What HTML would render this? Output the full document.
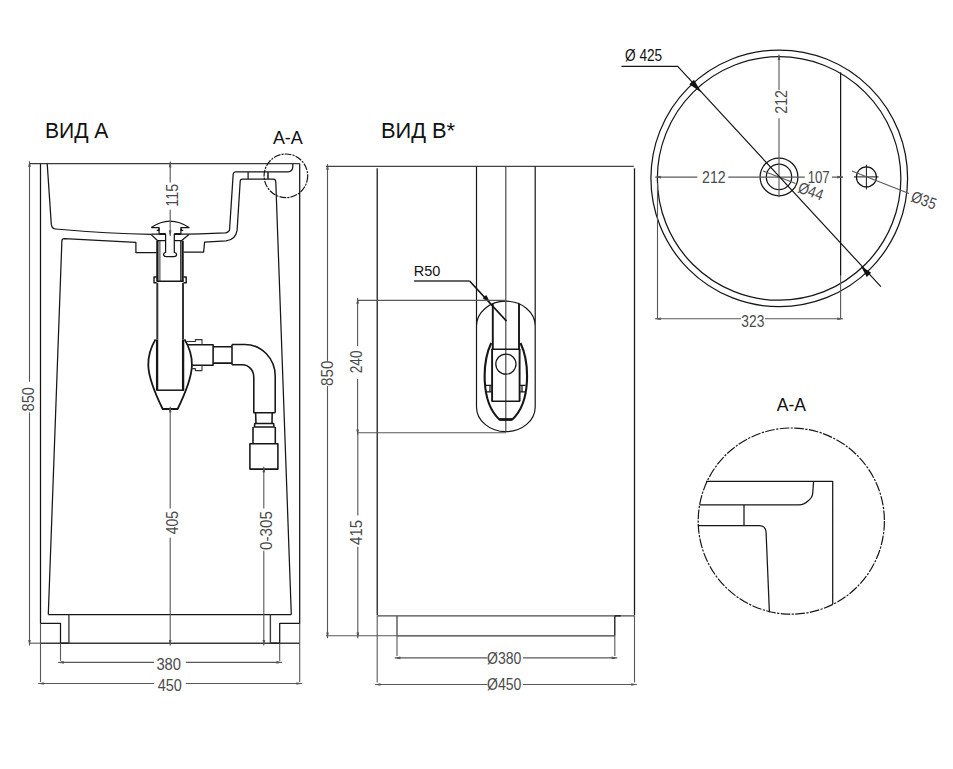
<!DOCTYPE html>
<html><head><meta charset="utf-8">
<style>
html,body{margin:0;padding:0;background:#fff;width:953px;height:769px;overflow:hidden}
svg{display:block;position:absolute;left:0;top:0}
.o{fill:none;stroke:#161616;stroke-width:1.25;stroke-linejoin:round}
.ot{fill:none;stroke:#161616;stroke-width:2.3}
.s{stroke-width:1.55}
.d{fill:none;stroke:#585858;stroke-width:1.1}
.c{fill:none;stroke:#161616;stroke-width:1.2;stroke-dasharray:9.7 1.4 2.2 1.4}
text{font-family:"Liberation Sans",sans-serif}
.t{fill:#4a4a4a;font-size:16px}
.h{fill:#111;font-size:23px}
</style></head>
<body>
<svg width="953" height="769" viewBox="0 0 953 769">
<text class="h" x="44.9" y="137.9" text-anchor="start" style="font-size:22px" textLength="63.5" lengthAdjust="spacingAndGlyphs">ВИД А</text>
<text class="h" x="272.9" y="143.8" text-anchor="start" style="font-size:18.5px" textLength="29.9" lengthAdjust="spacingAndGlyphs">А-А</text>
<path class="o" d="M40.5,163.6 V623.3 H60.5 V643.2 M299.7,163.6 V623.3 H279.7 V643.2"/>
<path class="o" d="M29.5,163.6 H299.7" style="stroke:#3a3a3a;stroke-width:1.35"/>
<path class="o" d="M40.5,643.2 H299.7" style="stroke:#3a3a3a;stroke-width:1.35"/>
<path class="o" d="M60.5,643.2 H68.9 M270.4,643.2 H279.7"/>
<path class="d" d="M29.5,643.2 H40.5"/>
<path class="o" d="M48.3,614.6 H291.3"/>
<path class="d" d="M68.9,614.6 V643.2 M270.4,614.6 V643.2" style="stroke:#3a3a3a;stroke-width:1.35"/>
<path class="o" d="M47.2,163.6 L51.3,224.4 Q52,228.8 55.5,229 Q110,233.8 151.2,234.3 M189,234.2 L200,233.9 L225.4,232.8 Q229.4,232.2 229.6,229.1 L233.2,173.9 Q233.6,171.9 235.4,171.9 H287.8 Q292.6,171.5 292.8,167 V163.6"/>
<path class="o" d="M48.3,614.6 L61.9,240.6 Q62.1,238.6 64.4,238.6 L135.9,242.3 V252.5 H156.6"/>
<path class="o" d="M291.3,614.6 L275.8,182 Q275.5,179.1 273.5,179.1 H242.3 Q240.3,179.1 240.2,181.3 L237.1,230.4 Q235.5,240 226,240.8 L204.6,242.1 L203.6,252.2 H183.7"/>
<path class="o" d="M248.1,171.9 V179.1"/>
<path class="o" d="M268,171.9 V179.1" style="stroke:#333;stroke-width:1.7"/>
<circle class="c" cx="285.9" cy="175.8" r="21.8" style="stroke-dasharray:6.9 1.1 2.1 1.1"/>
<path class="o" d="M151.2,227.6 Q170,214.6 189,227.6 H180.9 V233.7 M151.2,227.6 H159.1 V233.7"/>
<path d="M156.3,231 L159.3,227.8 V231 z M183.7,231 L180.7,227.8 V231 z" fill="#111"/>
<path class="o" d="M151.2,234.2 H159.1 M180.9,234.2 H189"/>
<path class="o" d="M165.6,233.7 V252.4 Q163.3,253 163.6,255 Q164,256.5 166,256.5 H174 Q176.5,256.5 176.6,254.5 Q176.6,252.8 174.3,252.4 V233.7"/>
<path class="ot" d="M159.1,234 H165.6 M174.3,234 H181" style="stroke-width:1.8"/>
<path class="o" d="M151.2,234.6 L157.7,240.7 H165.6 M189,234.6 L181.4,240.7 H174.3"/>
<path class="ot" d="M157.4,240.7 V281.3 M182.6,240.7 V281.3 M157.1,339.4 V390.2 M183.1,339.4 V390.2"/>
<path class="o" d="M159.9,240.7 V281.3 M180.6,240.7 V281.3" style="stroke-width:0.9"/>
<path class="o" d="M156.6,281.3 H183.7 M156.7,277 H154 V282.7 H156.7 M183.7,277 H186.2 V282.7 H183.7" style="stroke-width:1.4"/>
<path class="o" d="M157.3,282.8 V339.4 M183,282.8 V339.4" style="stroke:#333;stroke-width:2"/>
<path class="o" d="M156.4,390.2 H184.1" style="stroke-width:1.5"/>
<path class="o" d="M155.5,339.4 Q148,352 148.3,365.4 Q148.6,380 162.7,409 H177.6 Q191.6,380 191.9,365.4 Q192.2,352 184.6,339.4" style="stroke-width:1.8"/>
<path class="o s" d="M187.2,344.7 H213.1 V365.2 H191.2"/>
<path class="o" d="M186.3,341.5 H195.4 V339.6 H202 V344.7 M191.4,368.6 H195.4 V370.6 H202 V365.2" style="stroke:#333;stroke-width:1.1"/>
<path class="o s" d="M213.1,346.7 H232 M213.1,363.1 H232"/>
<path class="o s" d="M232,344.5 V364.7 M232,344.5 H245 A30.2,31.5 0 0 1 275.2,376 V412.7 M232,364.7 H242.4 A11.4,12.5 0 0 1 253.8,377.2 V412.7 H275.2"/>
<path class="o s" d="M255.6,412.7 L256,423.4 M272.2,412.7 L272,423.4 M254.8,423.4 H273.6 L274,427 H254.4 Z M253,427 V443.7 M275.3,427 V443.7"/>
<rect class="o s" x="249.9" y="443.7" width="28" height="25.4"/>
<path class="d" d="M29.5,163.6 V381.7 M29.5,412.2 V643.2"/>
<path d="M29.50,166.90 L29.50,161.30" stroke="#585858" stroke-width="1.1"/>
<path d="M29.50,161.30 L30.80,166.90 L28.20,166.90 z" fill="#555"/>
<path d="M29.50,639.90 L29.50,645.50" stroke="#585858" stroke-width="1.1"/>
<path d="M29.50,645.50 L28.20,639.90 L30.80,639.90 z" fill="#555"/>
<text class="t" transform="translate(33.8,399.3) rotate(-90)" text-anchor="middle" textLength="24.4" lengthAdjust="spacingAndGlyphs">850</text>
<path class="d" d="M170.2,163.6 V182.5 M170.2,209.7 V233.7"/>
<path d="M170.20,167.20 L170.20,161.60" stroke="#585858" stroke-width="1.1"/>
<path d="M170.20,161.60 L171.50,167.20 L168.90,167.20 z" fill="#555"/>
<path d="M170.20,230.40 L170.20,236.00" stroke="#585858" stroke-width="1.1"/>
<path d="M170.20,236.00 L168.90,230.40 L171.50,230.40 z" fill="#555"/>
<text class="t" transform="translate(177.6,195.3) rotate(-90)" text-anchor="middle" textLength="22.8" lengthAdjust="spacingAndGlyphs">115</text>
<path class="d" d="M170.2,409 V508.4 M170.2,537.7 V643.2"/>
<path d="M170.20,412.30 L170.20,406.70" stroke="#585858" stroke-width="1.1"/>
<path d="M170.20,406.70 L171.50,412.30 L168.90,412.30 z" fill="#555"/>
<path d="M170.20,639.90 L170.20,645.50" stroke="#585858" stroke-width="1.1"/>
<path d="M170.20,645.50 L168.90,639.90 L171.50,639.90 z" fill="#555"/>
<text class="t" transform="translate(177.5,522.7) rotate(-90)" text-anchor="middle" textLength="23.2" lengthAdjust="spacingAndGlyphs">405</text>
<path class="d" d="M263.8,469 V508.4 M263.8,550.7 V643.2"/>
<path d="M263.80,472.30 L263.80,466.70" stroke="#585858" stroke-width="1.1"/>
<path d="M263.80,466.70 L265.10,472.30 L262.50,472.30 z" fill="#555"/>
<path d="M263.80,639.90 L263.80,645.50" stroke="#585858" stroke-width="1.1"/>
<path d="M263.80,645.50 L262.50,639.90 L265.10,639.90 z" fill="#555"/>
<text class="t" transform="translate(271.6,530.5) rotate(-90)" text-anchor="middle" textLength="38.9" lengthAdjust="spacingAndGlyphs">0-305</text>
<path class="d" d="M60.5,643.2 V660.7 M279.7,643.2 V660.7 M40.5,623.3 V682 M299.7,623.3 V682"/>
<path class="d" d="M60.5,662.4 H154 M185.8,662.4 H279.7"/>
<path d="M63.80,662.40 L58.20,662.40" stroke="#585858" stroke-width="1.1"/>
<path d="M58.20,662.40 L63.80,661.10 L63.80,663.70 z" fill="#555"/>
<path d="M276.40,662.40 L282.00,662.40" stroke="#585858" stroke-width="1.1"/>
<path d="M282.00,662.40 L276.40,663.70 L276.40,661.10 z" fill="#555"/>
<text class="t" x="168.7" y="669.8" text-anchor="middle" textLength="24.6" lengthAdjust="spacingAndGlyphs">380</text>
<path class="d" d="M40.5,683.5 H154 M185.8,683.5 H299.7"/>
<path d="M43.80,683.50 L38.20,683.50" stroke="#585858" stroke-width="1.1"/>
<path d="M38.20,683.50 L43.80,682.20 L43.80,684.80 z" fill="#555"/>
<path d="M296.40,683.50 L302.00,683.50" stroke="#585858" stroke-width="1.1"/>
<path d="M302.00,683.50 L296.40,684.80 L296.40,682.20 z" fill="#555"/>
<text class="t" x="169.75" y="691" text-anchor="middle" textLength="24.1" lengthAdjust="spacingAndGlyphs">450</text>
<text class="h" x="380.9" y="137.9" text-anchor="start" style="font-size:22px" textLength="74.2" lengthAdjust="spacingAndGlyphs">ВИД В*</text>
<path class="o" d="M377.2,168.2 V615 M634.5,168.2 V615"/>
<path class="o" d="M377.2,615.9 H634.5 M397,615.9 V635.8" style="stroke:#4a4a4a;stroke-width:1.3"/>
<path class="o" d="M620.8,615.9 H615.4 Q614.8,616 614.8,617 V635.8" style="stroke:#151515;stroke-width:1.3"/>
<path class="o" d="M397,635.8 H615" style="stroke:#3a3a3a;stroke-width:1.3"/>
<path class="o" d="M326,166.4 H633.8" style="stroke:#444;stroke-width:1.3"/>
<path class="d" d="M326,635.8 H397"/>
<path class="o" d="M476.5,166.4 V406.9 A29.35,24.7 0 0 0 535.2,406.9 V166.4 M476.5,325.9 A29.35,24.7 0 0 1 535.2,325.9" style="stroke-width:1.2"/>
<path class="o" d="M505.8,166.4 V432.2" style="stroke:#4a4a4a;stroke-width:1.2"/>
<path class="o" d="M492.8,303.5 V349 M519,303.5 V349" style="stroke-width:1.9"/>
<path class="o s" d="M491.6,349.2 H520.1 M491.6,401.3 H520.1"/>
<path class="o" d="M492.1,349 V401.3 M519.6,349 V401.3" style="stroke-width:1.9"/>
<path class="o" d="M491.2,343 C482.3,362 480.3,402 499.4,419.5 H512.3 C531.4,402 529.4,362 520.5,343" style="stroke-width:2.1"/>
<path class="o" d="M499.4,419.5 H512" style="stroke-width:2.6"/>
<path class="o" d="M486,385.3 H491.6 M486,391.8 H491.6 M490,385.3 V391.8 M520.1,385.3 H525.6 M520.1,391.8 H525.6 M522,385.3 V391.8"/>
<circle class="o" cx="505.9" cy="364.1" r="10.1"/>
<text class="h" x="413.8" y="275.8" text-anchor="start" style="font-size:15px" textLength="26.6" lengthAdjust="spacingAndGlyphs">R50</text>
<path class="o" d="M414,281 H469.6" style="stroke:#333;stroke-width:1.3"/>
<path class="o" d="M469.6,281 L506.5,321.1" style="stroke:#151515;stroke-width:1.6"/>
<path d="M490.60,303.20 L482.65,298.30 L486.31,294.90 z" fill="#111"/>
<path class="d" d="M327.5,166.4 V361 M327.5,386 V635.9"/>
<path d="M327.50,169.70 L327.50,164.10" stroke="#585858" stroke-width="1.1"/>
<path d="M327.50,164.10 L328.80,169.70 L326.20,169.70 z" fill="#555"/>
<path d="M327.50,632.60 L327.50,638.20" stroke="#585858" stroke-width="1.1"/>
<path d="M327.50,638.20 L326.20,632.60 L328.80,632.60 z" fill="#555"/>
<text class="t" transform="translate(332.9,373.3) rotate(-90)" text-anchor="middle" textLength="25.3" lengthAdjust="spacingAndGlyphs">850</text>
<path class="d" d="M357.6,300.4 H506 M357.6,432.7 H506"/>
<path class="d" d="M357.6,300.4 V345.9 M357.6,379 V432.7"/>
<path d="M357.60,303.70 L357.60,298.10" stroke="#585858" stroke-width="1.1"/>
<path d="M357.60,298.10 L358.90,303.70 L356.30,303.70 z" fill="#555"/>
<path d="M357.60,429.40 L357.60,435.00" stroke="#585858" stroke-width="1.1"/>
<path d="M357.60,435.00 L356.30,429.40 L358.90,429.40 z" fill="#555"/>
<text class="t" transform="translate(361.8,361.9) rotate(-90)" text-anchor="middle" textLength="22.7" lengthAdjust="spacingAndGlyphs">240</text>
<path class="d" d="M357.8,432.7 V515.6 M357.8,546.8 V635.9"/>
<path d="M357.80,632.60 L357.80,638.20" stroke="#585858" stroke-width="1.1"/>
<path d="M357.80,638.20 L356.50,632.60 L359.10,632.60 z" fill="#555"/>
<text class="t" transform="translate(361.8,532.4) rotate(-90)" text-anchor="middle" textLength="25" lengthAdjust="spacingAndGlyphs">415</text>
<path class="d" d="M397,635.9 V656 M614.8,635.9 V656 M377.2,615.5 V682.5 M634.5,615.5 V682.5"/>
<path class="d" d="M397,657.9 H487.5 M523,657.9 H615"/>
<path d="M400.30,657.90 L394.70,657.90" stroke="#585858" stroke-width="1.1"/>
<path d="M394.70,657.90 L400.30,656.60 L400.30,659.20 z" fill="#555"/>
<path d="M611.70,657.90 L617.30,657.90" stroke="#585858" stroke-width="1.1"/>
<path d="M617.30,657.90 L611.70,659.20 L611.70,656.60 z" fill="#555"/>
<text class="t" x="504.2" y="663.8" text-anchor="middle" textLength="34.3" lengthAdjust="spacingAndGlyphs">Ø380</text>
<path class="d" d="M377.2,684.5 H487.5 M523,684.5 H634.5"/>
<path d="M380.50,684.50 L374.90,684.50" stroke="#585858" stroke-width="1.1"/>
<path d="M374.90,684.50 L380.50,683.20 L380.50,685.80 z" fill="#555"/>
<path d="M631.20,684.50 L636.80,684.50" stroke="#585858" stroke-width="1.1"/>
<path d="M636.80,684.50 L631.20,685.80 L631.20,683.20 z" fill="#555"/>
<text class="t" x="504.2" y="689.5" text-anchor="middle" textLength="34.3" lengthAdjust="spacingAndGlyphs">Ø450</text>
<circle class="o" cx="779.25" cy="178.35" r="128.35"/>
<circle class="o" cx="779.1" cy="178.45" r="121.75"/>
<circle class="o" cx="779" cy="176.9" r="18.9"/>
<circle class="o" cx="779" cy="176.9" r="12.7"/>
<circle class="o" cx="866.4" cy="176.9" r="10"/>
<path class="o" d="M853.9,176.9 H878.6 M866.4,164.7 V189.4" style="stroke-width:1"/>
<path class="o" d="M840.6,72.3 V275.8"/>
<path class="d" d="M840.6,275.8 V318.8 M657.5,183 V318.8 M657.5,318.8 H741 M765,318.8 H840.6"/>
<text class="t" x="752.8" y="326.6" text-anchor="middle" textLength="23" lengthAdjust="spacingAndGlyphs">323</text>
<path d="M660.80,318.80 L655.20,318.80" stroke="#585858" stroke-width="1.1"/>
<path d="M655.20,318.80 L660.80,317.50 L660.80,320.10 z" fill="#555"/>
<path d="M837.30,318.80 L842.90,318.80" stroke="#585858" stroke-width="1.1"/>
<path d="M842.90,318.80 L837.30,320.10 L837.30,317.50 z" fill="#555"/>
<path d="M779.00,60.00 L779.00,54.40" stroke="#585858" stroke-width="1.1"/>
<path d="M779.00,54.40 L780.30,60.00 L777.70,60.00 z" fill="#555"/>
<path d="M660.80,177.10 L655.20,177.10" stroke="#585858" stroke-width="1.1"/>
<path d="M655.20,177.10 L660.80,175.80 L660.80,178.40 z" fill="#555"/>
<path d="M837.30,177.10 L842.90,177.10" stroke="#585858" stroke-width="1.1"/>
<path d="M842.90,177.10 L837.30,178.40 L837.30,175.80 z" fill="#555"/>
<path class="d" d="M779,56.7 V90 M779,118.3 V197.2"/>
<text class="t" transform="translate(787,101.9) rotate(-90)" text-anchor="middle" textLength="23.6" lengthAdjust="spacingAndGlyphs">212</text>
<path class="d" d="M657.5,177.1 H697.3 M728.3,177.1 H804.8 M832,177.1 H843"/>
<text class="t" x="713.9" y="182.8" text-anchor="middle" textLength="23.6" lengthAdjust="spacingAndGlyphs">212</text>
<text class="t" x="818.7" y="183.1" text-anchor="middle" textLength="22.1" lengthAdjust="spacingAndGlyphs">107</text>
<path class="d" d="M763.1,171 L795.6,183.5"/>
<text class="t" transform="translate(797,192) rotate(20)" style="font-size:16px" textLength="25.5" lengthAdjust="spacingAndGlyphs">Ø44</text>
<path class="d" d="M851.9,171 L909,193.6"/>
<text class="t" transform="translate(910,201) rotate(20)" style="font-size:16px" textLength="25.5" lengthAdjust="spacingAndGlyphs">Ø35</text>
<path class="o" d="M621.5,66.4 H677.7 L880.9,286.7" style="stroke-width:1.2"/>
<path d="M701.50,92.60 L689.29,84.15 L693.98,79.79 z" fill="#111"/>
<path d="M860.80,266.10 L871.16,272.86 L866.76,276.94 z" fill="#111"/>
<text class="h" x="625" y="60.5" text-anchor="start" style="font-size:16.5px" textLength="37.2" lengthAdjust="spacingAndGlyphs">Ø 425</text>
<text class="h" x="776.8" y="410.9" text-anchor="start" style="font-size:18.5px" textLength="29.3" lengthAdjust="spacingAndGlyphs">А-А</text>
<circle class="c" cx="791.3" cy="521.1" r="93.1"/>
<path class="o" d="M706,481.4 H832.7 V604.2 M813.6,481.4 L812.7,493.5 Q812.3,497.5 808,501 Q804,504.8 799,504.8 H699.5 M744,504.5 V525.6 M697.9,525.6 H759.6 Q766,526 766.1,532.7 L769.4,612.4"/>
</svg>
</body></html>
